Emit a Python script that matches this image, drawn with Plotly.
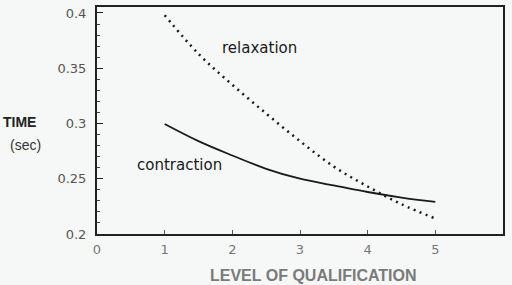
import plotly.graph_objects as go

# Data
levels = [1, 1.5, 2, 2.5, 3, 3.5, 4, 4.5, 5]
relaxation = [0.398, 0.363, 0.335, 0.309, 0.284, 0.261, 0.243, 0.227, 0.214]
contraction = [0.2995, 0.284, 0.271, 0.259, 0.250, 0.244, 0.238, 0.233, 0.229]
x_ticks = [0, 1, 2, 3, 4, 5]
y_ticks = [0.2, 0.25, 0.3, 0.35, 0.4]
y_tick_text = ["0.2", "0.25", "0.3", "0.35", "0.4"]

BG = "#f6f7f7"
SANS = "DejaVu Sans, Verdana, sans-serif"
HELV = "Liberation Sans, Arial, sans-serif"

fig = go.Figure()
fig.add_trace(go.Scatter(x=levels, y=relaxation, mode="lines", line_shape="spline",
                         line=dict(color="#1a1a1a", width=2.5, dash="2px,4.5px"),
                         showlegend=False))
fig.add_trace(go.Scatter(x=levels, y=contraction, mode="lines", line_shape="spline",
                         line=dict(color="#1a1a1a", width=1.8),
                         showlegend=False))

fig.add_annotation(x=2.40, y=0.3685, text="relaxation", showarrow=False,
                   xanchor="center", yanchor="middle",
                   font=dict(family=SANS, size=15, color="#1a1a1a"))
fig.add_annotation(x=1.224, y=0.262, text="contraction", showarrow=False,
                   xanchor="center", yanchor="middle",
                   font=dict(family=SANS, size=15, color="#1a1a1a"))

fig.add_annotation(xref="paper", yref="paper", x=-0.190, y=0.493, text="<b>TIME</b>",
                   showarrow=False, xanchor="center", yanchor="middle",
                   font=dict(family=HELV, size=14, color="#222"))
fig.add_annotation(xref="paper", yref="paper", x=-0.177, y=0.393, text="(sec)",
                   showarrow=False, xanchor="center", yanchor="middle",
                   font=dict(family=HELV, size=14, color="#333"))
fig.add_annotation(xref="paper", yref="paper", x=0.534, y=-0.183,
                   text="<b>LEVEL OF QUALIFICATION</b>", showarrow=False,
                   xanchor="center", yanchor="middle",
                   font=dict(family=HELV, size=16, color="#7a7a7a"))

fig.update_xaxes(range=[0, 6.0], tickvals=x_ticks, ticks="inside", ticklen=4,
                 tickcolor="#555", tickfont=dict(family=SANS, size=13, color="#777"),
                 showgrid=False, zeroline=False, showline=True, linecolor="#222",
                 linewidth=2, mirror=True, ticklabelstandoff=2)
fig.update_yaxes(range=[0.2, 0.4054], tickvals=y_ticks, ticktext=y_tick_text,
                 ticks="inside", ticklen=6, tickcolor="#222",
                 minor=dict(dtick=0.01, ticks="inside", ticklen=3, tickcolor="#444"),
                 tickfont=dict(family=SANS, size=13, color="#555"),
                 showgrid=False, zeroline=False, showline=True, linecolor="#222",
                 linewidth=2, mirror=True, ticklabelstandoff=6)

fig.update_layout(width=512, height=285, margin=dict(l=97, r=9, t=5, b=51),
                  paper_bgcolor=BG, plot_bgcolor=BG)

fig.write_html("out.html")
